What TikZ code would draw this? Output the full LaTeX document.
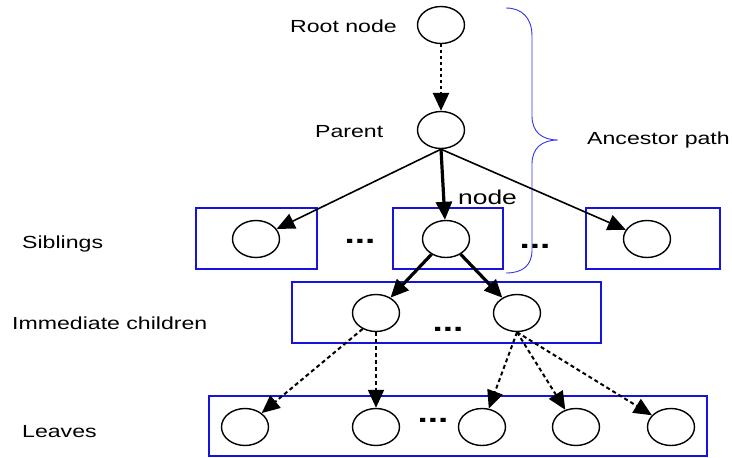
\documentclass[tikz,border=0pt]{standalone}
\usepackage{fontspec}
\newfontfamily\labfont{Liberation Sans}[FakeStretch=1.32]
\usetikzlibrary{shapes.geometric,arrows.meta}
\definecolor{boxblue}{RGB}{20,20,220}
\definecolor{braceblue}{RGB}{50,50,240}
\begin{document}
\begin{tikzpicture}[x=1pt,y=-1pt,
  nd/.style={ellipse,draw,line width=1.4pt,minimum width=47pt,minimum height=37pt,inner sep=0pt},
  grp/.style={draw=boxblue,line width=1.6pt,inner sep=0pt},
  lab/.style={anchor=base west,inner sep=0pt,font=\labfont\fontsize{17.5}{20}\selectfont},
  dots/.style={anchor=base,inner sep=0pt,font=\labfont\fontsize{28}{30}\selectfont\bfseries},
  tip/.style={-{Triangle[length=18pt,width=16pt]}},
  thinarr/.style={tip,line width=1.6pt},
  thickarr/.style={tip,line width=3.2pt},
  dotarr/.style={tip,line width=2.6pt,dash pattern=on 3pt off 3pt},
  dasharr/.style={tip,line width=2pt,dash pattern=on 4pt off 3pt}]
\useasboundingbox (0,0) rectangle (732,458);
% group boxes
\draw[grp] (196,208) rectangle (317,269);
\draw[grp] (393,208) rectangle (503,269);
\draw[grp] (586,208) rectangle (720,269);
\draw[grp] (292,282) rectangle (601,343);
\draw[grp] (209,396) rectangle (707,456);
% nodes
\node[nd] (root) at (441,25) {};
\node[nd] (parent) at (441,130) {};
\node[nd] (s1) at (256,239) {};
\node[nd] (s2) at (446,239) {};
\node[nd] (s3) at (647,239) {};
\node[nd] (c1) at (376,313) {};
\node[nd] (c2) at (517,313) {};
\node[nd] (l1) at (245,427) {};
\node[nd] (l2) at (376,427) {};
\node[nd] (l3) at (482,427) {};
\node[nd] (l4) at (576,427) {};
\node[nd] (l5) at (671,427) {};
% labels
\node[lab] (tRoot) at (290,32) {Root node};
\node[lab] (tParent) at (315,137) {Parent};
\node[lab] (tSib) at (22,248) {Siblings};
\node[lab] (tImm) at (12,329) {Immediate children};
\node[lab] (tLeaves) at (22,437) {Leaves};
\node[lab] (tAnc) at (587,144) {Ancestor path};
\node[lab,font=\labfont\fontsize{20}{24}\selectfont] (tNode) at (458,204) {node};
% ellipsis dots
\node[dots] (d1) at (360,243) {...};
\node[dots] (d2) at (535,248) {...};
\node[dots] (d3) at (448,331) {...};
\node[dots] (d4) at (433,422) {...};
% brace
\draw[braceblue,line width=0.9pt] (506,8) .. controls (522,8) and (532,18) .. (532,36)
  -- (532,116) .. controls (532,132) and (542,140) .. (558,140)
  .. controls (542,140) and (532,148) .. (532,164)
  -- (532,250) .. controls (532,266) and (522,273) .. (506,273);
% connectors
\draw[dotarr] (root) -- (parent);
\draw[thinarr] (parent.south) -- (s1);
\draw[thickarr] (parent.south) -- (s2);
\draw[thinarr] (parent.south) -- (s3);
\draw[thickarr] (s2) -- (c1);
\draw[thickarr] (s2) -- (c2);
\draw[dasharr] (c1.230) -- (l1);
\draw[dasharr] (c1.south) -- (l2.north);
\draw[dasharr] (c2.south) -- (l3);
\draw[dasharr] (c2.south) -- (l4);
\draw[dasharr] (c2.south) -- (l5);
\end{tikzpicture}
\end{document}
